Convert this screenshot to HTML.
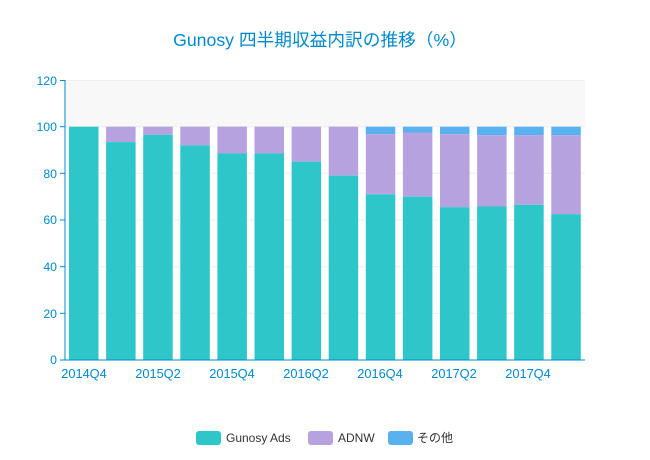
<!DOCTYPE html>
<html><head><meta charset="utf-8"><style>
html,body{margin:0;padding:0;background:#fff;}
svg{display:block;font-family:"Liberation Sans","Noto Sans CJK JP",sans-serif;}
</style></head><body>
<svg width="650" height="460" viewBox="0 0 650 460" xmlns="http://www.w3.org/2000/svg">
<text x="320" y="46" text-anchor="middle" font-size="17.7" fill="#008acd">Gunosy 四半期収益内訳の推移（%）</text>
<rect x="65" y="80" width="520" height="46.7" fill="#f8f8f8"/>
<g stroke="#eeeeee" stroke-width="1">
<line x1="65" x2="585" y1="80.5" y2="80.5"/>
<line x1="65" x2="585" y1="126.7" y2="126.7"/>
<line x1="65" x2="585" y1="173.3" y2="173.3"/>
<line x1="65" x2="585" y1="220" y2="220"/>
<line x1="65" x2="585" y1="266.7" y2="266.7"/>
<line x1="65" x2="585" y1="313.3" y2="313.3"/>
</g>
<g id="bars"></g>
<line x1="65" x2="65" y1="80" y2="360" stroke="#008acd" stroke-width="1"/>
<line x1="65" x2="585" y1="360" y2="360" stroke="#008acd" stroke-width="1"/>
<g stroke="#008acd">
<line x1="60" x2="65" y1="80.5" y2="80.5"/><line x1="60" x2="65" y1="126.7" y2="126.7"/><line x1="60" x2="65" y1="173.3" y2="173.3"/><line x1="60" x2="65" y1="220" y2="220"/><line x1="60" x2="65" y1="266.7" y2="266.7"/><line x1="60" x2="65" y1="313.3" y2="313.3"/><line x1="60" x2="65" y1="360" y2="360"/>
</g>
<g font-size="12.3" fill="#008acd" text-anchor="end">
<text x="57" y="85">120</text><text x="57" y="131">100</text><text x="57" y="178">80</text><text x="57" y="224">60</text><text x="57" y="271">40</text><text x="57" y="318">20</text><text x="57" y="364">0</text>
</g>
<g font-size="12.8" fill="#008acd" text-anchor="middle">
<text x="84" y="378">2014Q4</text><text x="158" y="378">2015Q2</text><text x="232" y="378">2015Q4</text><text x="306" y="378">2016Q2</text><text x="380" y="378">2016Q4</text><text x="454" y="378">2017Q2</text><text x="528" y="378">2017Q4</text>
</g>
<rect x="196" y="431" width="25" height="14" rx="3" fill="#2ec7c9"/>
<text x="226" y="442" font-size="12" fill="#333">Gunosy Ads</text>
<rect x="308" y="431" width="25" height="14" rx="3" fill="#b6a2de"/>
<text x="338" y="442" font-size="12" fill="#333">ADNW</text>
<rect x="388" y="431" width="25" height="14" rx="3" fill="#5ab1ef"/>
<text x="417" y="442" font-size="12" fill="#333">その他</text>
</svg>
<script>
var a=[100,93.4,96.5,92,88.5,88.5,85,79,71,70,65.5,65.8,66.5,62.5];
var b=[100,100,100,100,100,100,100,100,96.8,97.5,96.8,96.3,96.3,96.3];
var g=document.getElementById('bars'),s='';
function y(v){return 360-v*2.3333;}
for(var i=0;i<14;i++){var x=69+i*37.1;
s+='<rect x="'+x+'" y="'+y(100)+'" width="29.5" height="'+(y(b[i])-y(100))+'" fill="#5ab1ef"/>';
s+='<rect x="'+x+'" y="'+y(b[i])+'" width="29.5" height="'+(y(a[i])-y(b[i]))+'" fill="#b6a2de"/>';
s+='<rect x="'+x+'" y="'+y(a[i])+'" width="29.5" height="'+(360-y(a[i]))+'" fill="#2ec7c9"/>';}
g.innerHTML=s;
</script>
</body></html>
